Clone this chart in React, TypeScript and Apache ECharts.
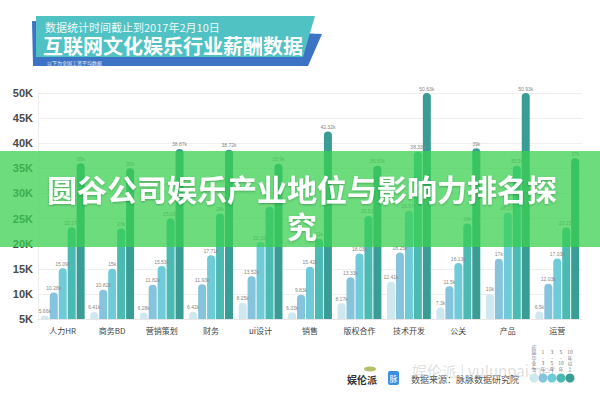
import React, { useEffect, useRef } from "react";
import * as echarts from "echarts";

const categories = ["人力HR", "商务BD", "营销策划", "财务", "ui设计", "销售", "版权合作", "技术开发", "公关", "产品", "运营"];
const seriesNames = ["应届毕业生", "1-3年", "3-5年", "5-10年", "10年以上"];
const fresh = [5.66, 6.41, 6.28, 6.42, 8.25, 6.33, 8.17, 12.41, 7.3, 10, 6.5];
const y1to3 = [10.28, 10.82, 11.82, 11.93, 13.52, 9.83, 13.33, 18.25, 11.5, 17, 12.03];
const y3to5 = [15.09, 15, 15.53, 17.71, 20.32, 15.42, 18.03, 26.57, 16.13, 26.17, 17.03];
const y5to10 = [23.27, 23, 25.03, 26, 27.33, 21, 25.53, 38.33, 24, 35.5, 23.23];
const y10plus = [36, 35, 38.87, 38.72, 35.9, 42.32, 35.53, 50.63, 39, 50.93, 37];
const seriesData = [fresh, y1to3, y3to5, y5to10, y10plus];
const colors = ["#cfe7ef", "#86c3dc", "#6fcbd8", "#4bbab3", "#3a9d95"];
const legendLabels = ["应\n届\n毕\n业\n生", "1\n-\n3\n年", "3\n-\n5\n年", "5\n-\n10\n年", "10\n年\n以\n上"];

const FONT = "'Liberation Sans', 'Noto Sans CJK SC', sans-serif";
const CJK = "'Noto Sans CJK SC', sans-serif";

export default function App() {
  const ref = useRef<HTMLDivElement>(null);
  useEffect(() => {
    if (!ref.current) return;
    const chart = echarts.init(ref.current, null, { renderer: "svg" });
    const legendX = [534, 543, 552, 561, 570];
    const legendGraphics: any[] = [];
    legendX.forEach((x, i) => {
      legendGraphics.push({
        type: "circle",
        shape: { cx: x, cy: 378, r: 4.5 },
        style: { fill: colors[i] },
        z: 20,
      });
      legendGraphics.push({
        type: "text",
        x: x,
        y: 371,
        style: {
          text: legendLabels[i],
          fontSize: 5,
          lineHeight: 5.5,
          fill: "#777",
          align: "center",
          verticalAlign: "bottom",
          fontFamily: CJK,
        },
        z: 20,
      });
    });

    chart.setOption({
      animation: false,
      backgroundColor: "#ffffff",
      textStyle: { fontFamily: FONT },
      grid: { left: 38, right: 18, top: 93, bottom: 81 },
      xAxis: {
        type: "category",
        data: categories,
        axisTick: { show: false },
        axisLine: { lineStyle: { color: "#e6e6e6" } },
        axisLabel: { fontSize: 8, color: "#444", margin: 7, fontFamily: CJK },
      },
      yAxis: {
        type: "value",
        min: 5,
        max: 50,
        interval: 5,
        axisLine: { show: true, lineStyle: { color: "#eeeeee" } },
        axisTick: { show: false },
        splitLine: { lineStyle: { color: "#efefef" } },
        axisLabel: {
          formatter: "{value}K",
          fontSize: 11,
          fontWeight: "bold",
          color: "#4a4a4a",
          margin: 5,
        },
      },
      series: seriesData.map((d, i) => ({
        name: seriesNames[i],
        type: "bar",
        data: d,
        barWidth: 8,
        barGap: "12%",
        itemStyle: { color: colors[i], borderRadius: [4, 4, 0, 0] },
        label: {
          show: true,
          position: "top",
          distance: 2,
          fontSize: 5,
          color: "#888",
          formatter: (p: any) => p.value + "k",
        },
      })),
      graphic: [
        {
          type: "polygon",
          shape: { points: [[32, 21], [322, 34], [308, 66], [33, 66]] },
          style: { fill: "#3d73c4" },
          z: 10,
        },
        {
          type: "polygon",
          shape: { points: [[36, 16], [315, 16], [303, 57], [36, 57]] },
          style: { fill: "#50c2c3" },
          z: 11,
        },
        {
          type: "text",
          x: 45,
          y: 27,
          style: { text: "数据统计时间截止到2017年2月10日", fontSize: 11, fill: "#eef9f9", verticalAlign: "middle", fontFamily: CJK },
          z: 12,
        },
        {
          type: "text",
          x: 43,
          y: 45,
          style: { text: "互联网文化娱乐行业薪酬数据", fontSize: 20, fontWeight: "bold", fill: "#ffffff", verticalAlign: "middle", fontFamily: CJK },
          z: 12,
        },
        {
          type: "text",
          x: 47,
          y: 62,
          style: { text: "以下为全国工资平均数据", fontSize: 5, fill: "#e2ebf7", verticalAlign: "middle", fontFamily: CJK },
          z: 12,
        },
        // footer
        {
          type: "ellipse",
          shape: { cx: 370, cy: 369, rx: 6, ry: 2.5 },
          style: { fill: "#b7bf6a" },
          z: 12,
        },
        {
          type: "text",
          x: 347,
          y: 379,
          style: { text: "娱伦派", fontSize: 10, fontWeight: "bold", fill: "#333", verticalAlign: "middle", fontFamily: CJK },
          z: 13,
        },
        {
          type: "rect",
          shape: { x: 388, y: 371, width: 11, height: 14, r: 2 },
          style: { fill: "#3b8fe0" },
          z: 12,
        },
        {
          type: "text",
          x: 393.5,
          y: 378,
          style: { text: "脉", fontSize: 8, fill: "#fff", align: "center", verticalAlign: "middle", fontFamily: CJK },
          z: 13,
        },
        {
          type: "text",
          x: 411,
          y: 379,
          style: { text: "数据来源：脉脉数据研究院", fontSize: 9, fill: "#555", verticalAlign: "middle", fontFamily: CJK },
          z: 12,
        },
        {
          type: "text",
          x: 412,
          y: 370,
          style: { text: "娱伦派 | yulunpai.net", fontSize: 15, fill: "rgba(160,160,160,0.35)", verticalAlign: "middle", fontFamily: CJK },
          z: 14,
        },
        ...legendGraphics,
        // overlay banner
        {
          type: "rect",
          shape: { x: 0, y: 151, width: 600, height: 96 },
          style: { fill: "rgba(57,208,80,0.74)" },
          z: 100,
        },
        {
          type: "text",
          x: 302,
          y: 206,
          style: {
            text: "圆谷公司娱乐产业地位与影响力排名探\n究",
            fontSize: 30,
            fontWeight: "bold",
            lineHeight: 37,
            fill: "#ffffff",
            align: "center",
            verticalAlign: "middle",
            fontFamily: CJK,
            textShadowColor: "rgba(0,0,0,0.25)",
            textShadowBlur: 2,
            textShadowOffsetY: 1,
          },
          z: 101,
        },
      ],
    });
    return () => chart.dispose();
  }, []);
  return <div ref={ref} style={{ position: "fixed", left: 0, top: 0, width: 600, height: 400 }} />;
}
